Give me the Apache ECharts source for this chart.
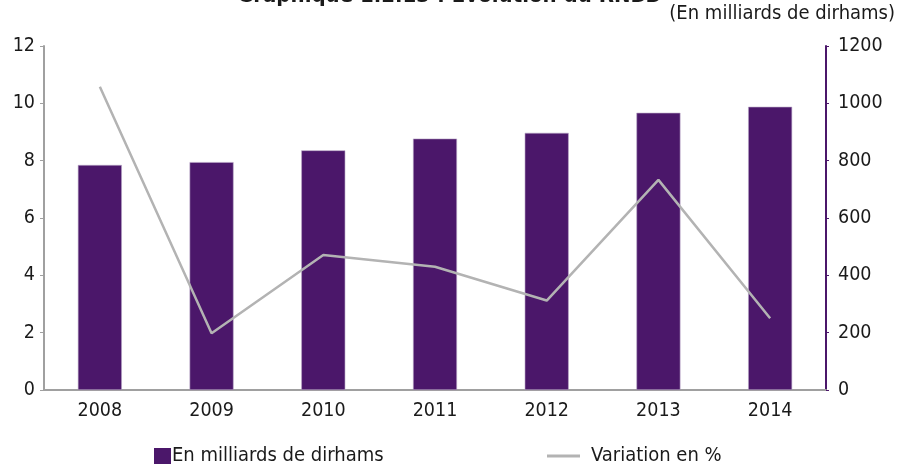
<!DOCTYPE html>
<html><head><meta charset="utf-8">
<script src="https://cdn.jsdelivr.net/npm/echarts@6/dist/echarts.min.js"></script>
<style>html,body{margin:0;padding:0;background:#fff}#c{width:899px;height:468px}</style>
</head><body><div id="c"></div>
<script>
const years = ['2008','2009','2010','2011','2012','2013','2014'];
const rnbd = [785, 795, 836, 877, 897, 967, 988];
const variation = [10.58, 1.98, 4.71, 4.30, 3.12, 7.33, 2.50];
const leftTicks = [0, 12, 2];
const rightTicks = [0, 1200, 200];
const FONT = '"DejaVu Sans Condensed", "Liberation Sans Narrow", sans-serif';
const chart = echarts.init(document.getElementById('c'));
chart.setOption({
  animation: false,
  textStyle: {fontFamily: FONT},
  graphic: [
    {type: 'text', left: 'center', top: -15, style: {text: 'Graphique 1.2.13 : Evolution du RNBD', font: 'bold 22px ' + FONT, fill: '#1a1a1a'}},
    {type: 'text', right: 4, top: 4, style: {text: '(En milliards de dirhams)', font: '20px ' + FONT, fill: '#1a1a1a'}}
  ],
  legend: [
    {top: 441, left: 149, itemWidth: 17, itemHeight: 16,
     textStyle: {fontSize: 20, color: '#1a1a1a', fontFamily: FONT, padding: [0, 0, 0, -4]},
     data: [{name: 'En milliards de dirhams', icon: 'rect', itemStyle: {borderWidth: 0}}]},
    {top: 441, left: 542, itemWidth: 33, itemHeight: 16,
     textStyle: {fontSize: 20, color: '#1a1a1a', fontFamily: FONT, padding: [0, 0, 0, 6]},
     data: [{name: 'Variation en %', icon: 'path://M0,7 L33,7 L33,10 L0,10 Z'}]}
  ],
  grid: {left: 44, right: 73, top: 46, bottom: 78},
  xAxis: {
    type: 'category', data: years,
    axisLine: {lineStyle: {color: '#a0a0a0', width: 2}},
    axisTick: {show: false},
    axisLabel: {fontSize: 19.5, color: '#1a1a1a', margin: 11}
  },
  yAxis: [
    {type: 'value', min: leftTicks[0], max: leftTicks[1], interval: leftTicks[2], position: 'left',
     axisLine: {show: true, lineStyle: {color: '#a0a0a0', width: 2}},
     axisTick: {show: true, length: 4, lineStyle: {color: '#a0a0a0'}},
     splitLine: {show: false},
     axisLabel: {fontSize: 19.5, color: '#1a1a1a', margin: 9}},
    {type: 'value', min: rightTicks[0], max: rightTicks[1], interval: rightTicks[2], position: 'right',
     axisLine: {show: true, lineStyle: {color: '#4b176a', width: 2}},
     axisTick: {show: true, length: 3, lineStyle: {color: '#4b176a'}},
     splitLine: {show: false},
     axisLabel: {fontSize: 19.5, color: '#1a1a1a', margin: 12, formatter: v => String(v)}}
  ],
  series: [
    {name: 'En milliards de dirhams', type: 'bar', yAxisIndex: 1, data: rnbd, barWidth: 44,
     itemStyle: {color: '#4b176a', borderColor: '#b9a6c6', borderWidth: 0.6}},
    {name: 'Variation en %', type: 'line', yAxisIndex: 0, data: variation, symbol: 'none',
     lineStyle: {color: '#b3b3b3', width: 2.5}, itemStyle: {color: '#b3b3b3'}}
  ]
});
</script></body></html>
